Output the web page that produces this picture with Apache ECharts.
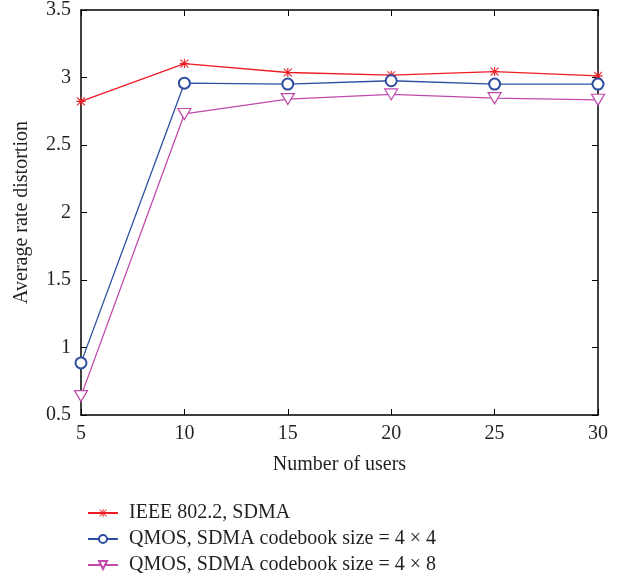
<!DOCTYPE html>
<html><head><meta charset="utf-8">
<script src="https://cdn.jsdelivr.net/npm/echarts@6/dist/echarts.min.js"></script>
<style>html,body{margin:0;padding:0;background:#fff}#c{width:625px;height:581px}</style>
</head><body><div id="c"></div>
<script>
const users = [5, 10, 15, 20, 25, 30];
const ieee = [2.823, 3.103, 3.037, 3.017, 3.044, 3.012];
const qmos44 = [0.886, 2.958, 2.951, 2.976, 2.951, 2.951];
const qmos48 = [0.64, 2.73, 2.84, 2.875, 2.847, 2.835];
const names = ['IEEE 802.2, SDMA', 'QMOS, SDMA codebook size = 4 \u00d7 4', 'QMOS, SDMA codebook size = 4 \u00d7 8'];
const xTicks = [5, 10, 15, 20, 25, 30];
const yTicks = [0.5, 1, 1.5, 2, 2.5, 3, 3.5];

const font = '"Liberation Serif", "DejaVu Serif", serif';
const txt = '#231f20';
const fs = 20;
const star = 'path://M4.4 0L5.6 0L5.6 10L4.4 10Z M0 4.4L10 4.4L10 5.6L0 5.6Z M1 0.2L9.8 9L9 9.8L0.2 1Z M9 0.2L9.8 1L1 9.8L0.2 9Z';
const tri = 'path://M0 0L10 0L5 9Z';
const pair = a => a.map((v, i) => [users[i], v]);

const chart = echarts.init(document.getElementById('c'));
const axLine = {show: true, lineStyle: {color: '#000', width: 1.5}};
const tick = {show: true, inside: true, length: 6, lineStyle: {color: '#000', width: 1}};
chart.setOption({
  animation: false,
  grid: {left: 81, right: 27, top: 8, bottom: 166, containLabel: false},
  legend: {
    orient: 'vertical', left: 87, top: 502, bottom: 0, padding: 0,
    itemWidth: 30, itemHeight: 10, itemGap: 4,
    textStyle: {fontFamily: font, fontSize: fs, color: txt, lineHeight: 22, padding: [0, 0, 0, 6]},
    data: names
  },
  xAxis: [{
    type: 'value', min: 5, max: 30, interval: 5,
    name: 'Number of users', nameLocation: 'middle', nameGap: 40,
    nameTextStyle: {fontFamily: font, fontSize: fs, color: txt},
    axisLine: axLine, axisTick: tick, splitLine: {show: false},
    axisLabel: {fontFamily: font, fontSize: fs, color: txt, margin: 9,
      formatter: v => xTicks.includes(v) ? String(v) : ''}
  }, {
    type: 'value', position: 'top', min: 5, max: 30, interval: 5,
    axisLine: axLine, axisTick: tick, axisLabel: {show: false}, splitLine: {show: false}
  }],
  yAxis: [{
    type: 'value', min: 0.5, max: 3.5, interval: 0.5,
    name: 'Average rate distortion', nameLocation: 'middle', nameGap: 49,
    nameTextStyle: {fontFamily: font, fontSize: fs, color: txt},
    axisLine: axLine, axisTick: tick, splitLine: {show: false},
    axisLabel: {fontFamily: font, fontSize: fs, color: txt, margin: 10,
      formatter: v => { const t = yTicks.find(y => Math.abs(y - v) < 1e-6); return t === undefined ? '' : String(t); }}
  }, {
    type: 'value', position: 'right', min: 0.5, max: 3.5, interval: 0.5,
    axisLine: axLine, axisTick: tick, axisLabel: {show: false}, splitLine: {show: false}
  }],
  series: [
    {name: names[0], type: 'line', data: pair(ieee), symbol: star, symbolSize: 9,
     itemStyle: {color: '#ed1c24'}, lineStyle: {color: '#ed1c24', width: 1.3}},
    {name: names[1], type: 'line', data: pair(qmos44), symbol: 'emptyCircle', symbolSize: 11,
     itemStyle: {color: '#2d4ea0', borderWidth: 1.2}, lineStyle: {color: '#2d4ea0', width: 1.3}},
    {name: names[2], type: 'line', data: pair(qmos48), symbol: tri, symbolSize: [13, 11],
     itemStyle: {color: '#fff', borderColor: '#c04aab', borderWidth: 1.2}, lineStyle: {color: '#c04aab', width: 1.3}}
  ]
});
</script></body></html>
